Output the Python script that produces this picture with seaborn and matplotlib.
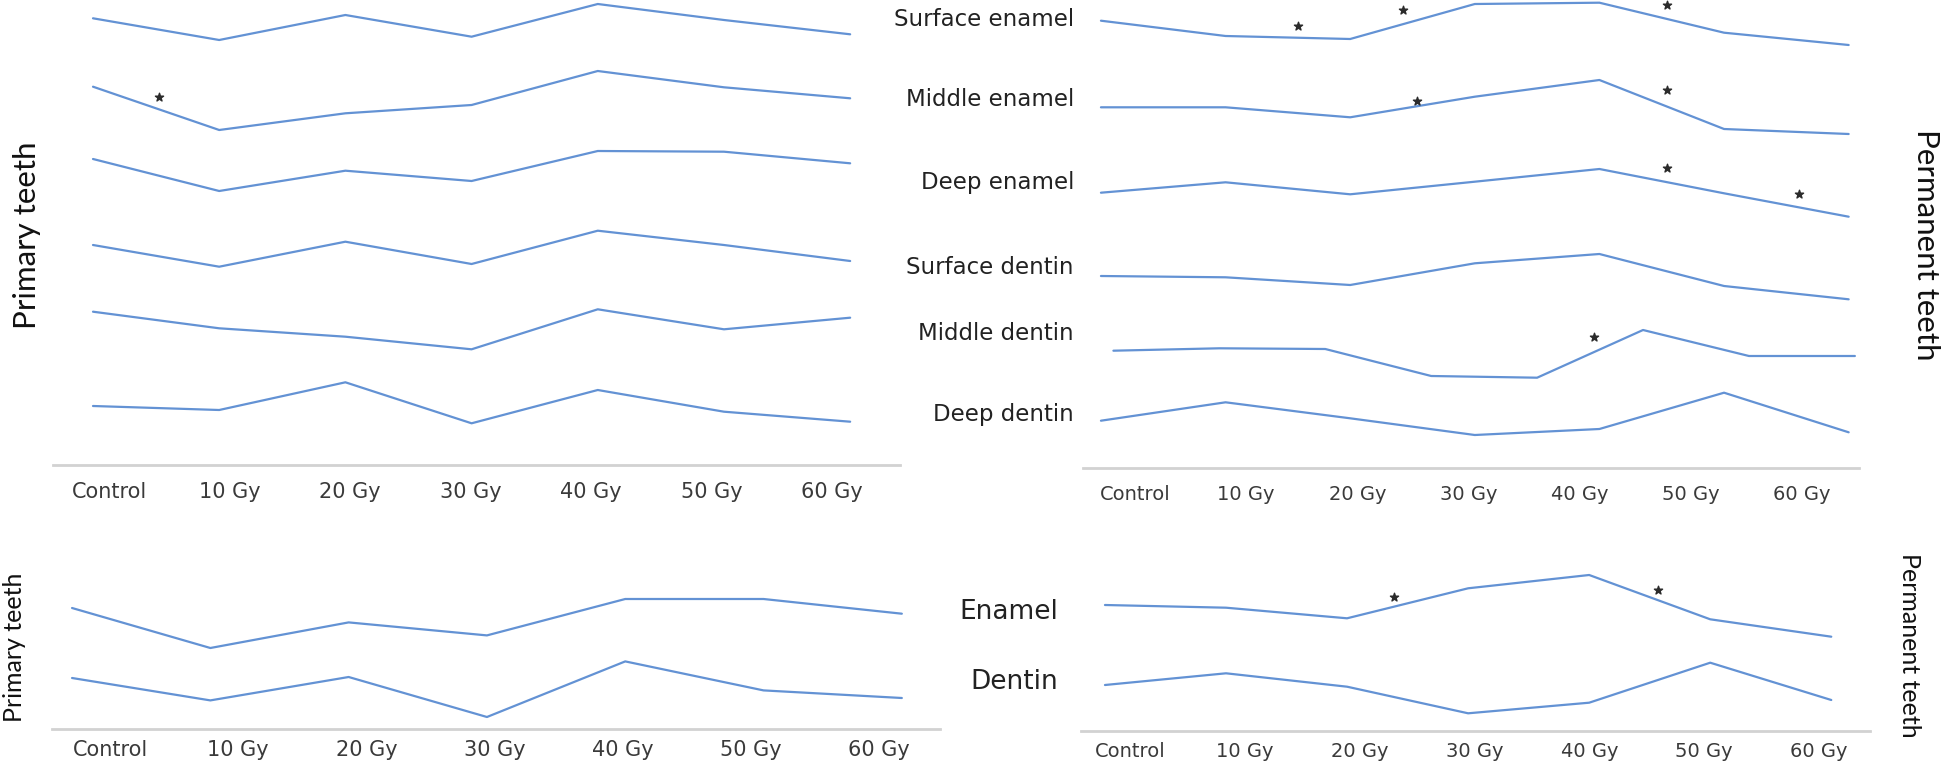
import numpy as np
import pandas as pd
import matplotlib
matplotlib.use("Agg")
import matplotlib.pyplot as plt
import seaborn as sns

# -------------------------
# Data (profile heights, arbitrary units)
# -------------------------
doses = ["Control", "10 Gy", "20 Gy", "30 Gy", "40 Gy", "50 Gy", "60 Gy"]
dose_x = [0, 1, 2, 3, 4, 5, 6]

layers = ["Surface enamel", "Middle enamel", "Deep enamel",
          "Surface dentin", "Middle dentin", "Deep dentin"]

# primary teeth, by layer
prim_surface_enamel = [446.7, 425, 450, 428.3, 461, 445, 430.7]
prim_middle_enamel = [378.3, 335, 351.7, 360, 394, 377.7, 366.7]
prim_deep_enamel = [306, 274, 294.3, 284, 314, 313.3, 301.7]
prim_surface_dentin = [220, 198.3, 223.3, 201, 234.3, 220, 204]
prim_middle_dentin = [153.3, 136.7, 128.3, 115.7, 155.7, 135.7, 147.3]
prim_deep_dentin = [59, 55, 82.7, 41.7, 75, 53.3, 43.3]
prim_star_x = [0.52]
prim_star_y = [367.7]

# permanent teeth, by layer
perm_surface_enamel = [447.3, 432, 429, 464, 465.3, 435.3, 423]
perm_middle_enamel = [360.7, 360.7, 350.7, 371.3, 388, 339, 334]
perm_deep_enamel = [275.3, 285.7, 273.7, 286.3, 299, 274.7, 251.3]
perm_surface_dentin = [192, 190.7, 183, 204.7, 214, 182, 168.7]
perm_middle_dentin_x = [0.1, 0.95, 1.8, 2.65, 3.5, 4.35, 5.2, 6.05]
perm_middle_dentin = [117.3, 119.7, 119, 92, 90.3, 138, 112, 112]
perm_deep_dentin = [47.3, 65.7, 49.7, 33, 39, 75.3, 35.7]
perm_star_x = [1.58, 2.42, 4.54, 2.54, 4.54, 4.54, 5.60, 3.96]
perm_star_y = [442, 458, 463, 367.3, 378, 299.7, 274, 131.3]

# whole tissue
tissues = ["Enamel", "Dentin"]
prim_enamel = [121, 81, 106.6, 93.6, 130, 130, 115.3]
prim_dentin = [51, 28.6, 52, 12, 67.6, 38.6, 31]
perm_enamel = [126, 123.3, 112.7, 142.7, 156, 111.7, 94.3]
perm_dentin = [46, 57.7, 44.3, 17.7, 28.3, 68.3, 31]
perm_tissue_star_x = [2.39, 4.57]
perm_tissue_star_y = [134.3, 141]


def long_df(series, xs=None):
    rows = []
    for name, vals in series.items():
        x = xs.get(name, dose_x) if xs else dose_x
        for xi, v in zip(x, vals):
            rows.append({"series": name, "dose": xi, "value": v})
    return pd.DataFrame(rows)


prim_layers = long_df(dict(zip(layers, [prim_surface_enamel, prim_middle_enamel, prim_deep_enamel,
                                        prim_surface_dentin, prim_middle_dentin, prim_deep_dentin])))
perm_layers = long_df(dict(zip(layers, [perm_surface_enamel, perm_middle_enamel, perm_deep_enamel,
                                        perm_surface_dentin, perm_middle_dentin, perm_deep_dentin])),
                      {"Middle dentin": perm_middle_dentin_x})
prim_tissue = long_df(dict(zip(tissues, [prim_enamel, prim_dentin])))
perm_tissue = long_df(dict(zip(tissues, [perm_enamel, perm_dentin])))

# -------------------------
# Figure
# -------------------------
sns.set_style("white")
plt.rcParams["font.family"] = ["DejaVu Sans"]

W, H = 1946, 762
fig = plt.figure(figsize=(W / 100, H / 100), dpi=100)
line_color = "#6392d4"


def px_axes(left, right, top, bottom):
    return fig.add_axes([left / W, 1 - bottom / H, (right - left) / W, (bottom - top) / H])


def draw_panel(ax, df, xlim, ylim, tick0, tickstep, pad, fs, stars=None):
    names = df["series"].unique()
    sns.lineplot(data=df, x="dose", y="value", hue="series", units="series", estimator=None,
                 palette={n: line_color for n in names}, linewidth=1.6, legend=False,
                 ax=ax, clip_on=False)
    if stars is not None:
        ax.scatter(stars[0], stars[1], marker="*", s=38, color="#2b2b2b", zorder=3, clip_on=False)
    ax.set_xlim(*xlim)
    ax.set_ylim(*ylim)
    ax.set_xticks(tick0 + tickstep * np.arange(len(doses)))
    ax.set_xticklabels(doses, fontsize=fs, color="#3a3a3a")
    ax.tick_params(axis="x", length=0, pad=pad)
    ax.set_yticks([])
    ax.set_xlabel("")
    ax.set_ylabel("")
    for s in ["top", "left", "right"]:
        ax.spines[s].set_visible(False)
    ax.spines["bottom"].set_color("#d2d2d2")
    ax.spines["bottom"].set_linewidth(2)
    ax.patch.set_alpha(0)


ax1 = px_axes(53, 900, 0, 465)
draw_panel(ax1, prim_layers, (-0.317, 6.395), (0, 465), 0.127, 0.955, 12, 15,
           (prim_star_x, prim_star_y))

ax2 = px_axes(1083, 1859, 0, 468)
draw_panel(ax2, perm_layers, (-0.144, 6.083), (0, 468), 0.273, 0.892, 12, 14,
           (perm_star_x, perm_star_y))

ax3 = px_axes(52, 940, 560, 729)
draw_panel(ax3, prim_tissue, (-0.145, 6.276), (0, 169), 0.275, 0.927, 8, 15)

ax4 = px_axes(1081, 1870, 560, 731)
draw_panel(ax4, perm_tissue, (-0.198, 6.32), (0, 171), 0.21, 0.948, 8, 14,
           (perm_tissue_star_x, perm_tissue_star_y))


def ftext(x, y, s, **kw):
    fig.text(x / W, 1 - y / H, s, **kw)


# layer labels between the panels
for name, y in zip(layers, [20, 100, 182, 267, 333, 415]):
    ftext(1074, y, name, ha="right", va="center", fontsize=16.5, color="#222222")

ftext(1058, 612, "Enamel", ha="right", va="center", fontsize=19, color="#222222")
ftext(1058, 682, "Dentin", ha="right", va="center", fontsize=19, color="#222222")

side = dict(ha="center", va="center", family=["Lato", "DejaVu Sans"], color="#111111")
ftext(27, 235, "Primary teeth", rotation=90, fontsize=22.5, **side)
ftext(1926, 245, "Permanent teeth", rotation=-90, fontsize=22.5, **side)
ftext(15, 647, "Primary teeth", rotation=90, fontsize=18, **side)
ftext(1909, 645, "Permanent teeth", rotation=-90, fontsize=18, **side)

fig.savefig("out.png", dpi=100, facecolor="white")
